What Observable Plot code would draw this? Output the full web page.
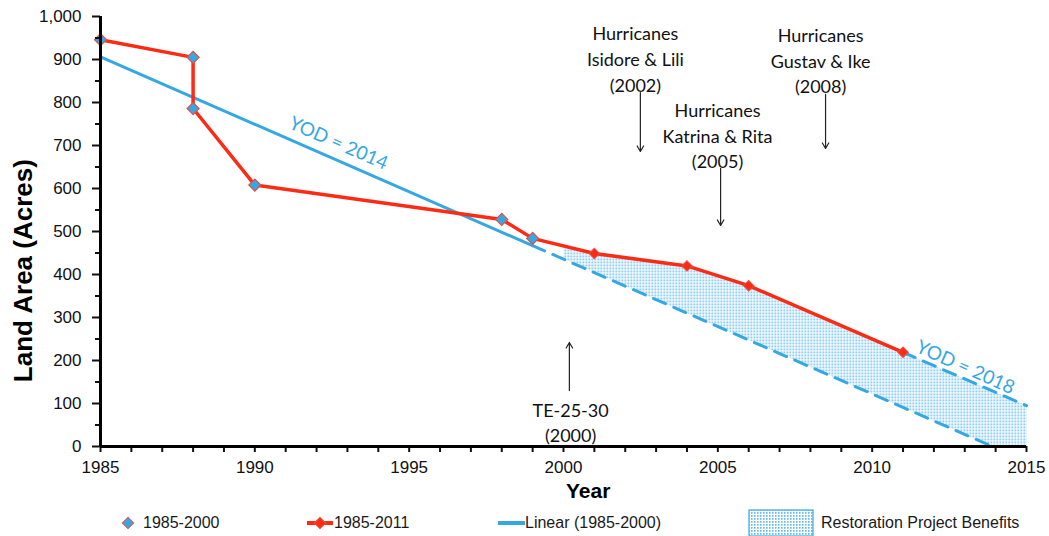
<!DOCTYPE html>
<html><head><meta charset="utf-8">
<script src="https://cdn.jsdelivr.net/npm/d3@7"></script>
<script src="https://cdn.jsdelivr.net/npm/@observablehq/plot@0.6"></script>
<style>
body{margin:0;background:#fff;}
#wrap{position:relative;width:1049px;height:536px;overflow:hidden;}
#legend{position:absolute;left:0;top:505px;width:1049px;height:31px;font-family:"Liberation Sans",Arial,sans-serif;font-size:16px;color:#1a1a1a;}
.li{position:absolute;top:0;height:36px;display:flex;align-items:center;white-space:nowrap;}
</style></head><body>
<div id="wrap"><div id="chart"></div><div id="legend"></div></div>
<script>
// ---- data ----
const earlyYears = [1985, 1988, 1988, 1990, 1998, 1999];
const earlyAcres = [946, 905, 786, 608, 528, 484];
const lateYears = [2001, 2004, 2006, 2011];
const lateAcres = [449, 420, 374, 219];
const trendYears = [1985, 1999];
const trendAcres = [906, 467];
const trendExtYears = [1999, 2013.9];
const trendExtAcres = [467, 0];
const projYears = [2011, 2015];
const projAcres = [219, 95];
const benefitYears = [2000, 2001, 2004, 2006, 2011, 2015, 2015, 2013.9, 2000];
const benefitAcres = [466, 449, 420, 374, 219, 95, 0, 0, 436];
const xTicks = d3.range(1985, 2016, 1);
const yMajor = d3.range(0, 1001, 100);
const yMinor = d3.range(50, 1000, 100);
const notes = [
  {text: "Hurricanes\nIsidore & Lili\n(2002)", x: 2002.33, y: 904},
  {text: "Hurricanes\nKatrina & Rita\n(2005)", x: 2004.99, y: 725},
  {text: "Hurricanes\nGustav & Ike\n(2008)", x: 2008.33, y: 900},
  {text: "TE-25-30\n(2000)", x: 2000.23, y: 59}
];
const arrows = [
  {x1: 2002.49, y1: 823, x2: 2002.49, y2: 686},
  {x1: 2005.09, y1: 647, x2: 2005.09, y2: 514},
  {x1: 2008.49, y1: 819, x2: 2008.49, y2: 693},
  {x1: 2000.19, y1: 130, x2: 2000.19, y2: 242}
];
const yodLabels = [
  {text: "YOD = 2014", x: 1992.71, y: 705, rotate: 23.6},
  {text: "YOD = 2018", x: 2013.02, y: 184, rotate: 24}
];

const RED = "#ff2a14";
const BLUE = "#35a8e4";
const early = earlyYears.map((x, i) => ({x, y: earlyAcres[i]}));
const late = lateYears.map((x, i) => ({x, y: lateAcres[i]}));
const all = early.concat(late);
const trend = trendYears.map((x, i) => ({x, y: trendAcres[i]}));
const trendExt = trendExtYears.map((x, i) => ({x, y: trendExtAcres[i]}));
const proj = projYears.map((x, i) => ({x, y: projAcres[i]}));
const benefit = benefitYears.map((x, i) => ({x, y: benefitAcres[i]}));

const plot = Plot.plot({
  width: 1049,
  height: 505,
  marginLeft: 100,
  marginRight: 23,
  marginTop: 16,
  marginBottom: 59,
  style: {fontFamily: "'Liberation Sans', Arial, sans-serif", fontSize: "17px", background: "white", color: "#111", overflow: "visible"},
  x: {domain: [1985, 2015], label: null},
  y: {domain: [0, 1000], label: null},
  marks: [
    Plot.line(benefit, {x: "x", y: "y", fill: "url(#dots)", stroke: "none", curve: "linear"}),
    Plot.line(trend, {x: "x", y: "y", stroke: BLUE, strokeWidth: 3}),
    Plot.line(trendExt, {x: "x", y: "y", stroke: BLUE, strokeWidth: 3, strokeDasharray: "13,9"}),
    Plot.line(proj, {x: "x", y: "y", stroke: BLUE, strokeWidth: 3, strokeDasharray: "13,9"}),
    Plot.line(all, {x: "x", y: "y", stroke: RED, strokeWidth: 3.5}),
    Plot.dot(early, {x: "x", y: "y", symbol: "square", rotate: 45, r: 4.8, fill: BLUE, stroke: "#e0504a", strokeWidth: 1.2}),
    Plot.dot(late, {x: "x", y: "y", symbol: "square", rotate: 45, r: 4.2, fill: RED, stroke: "#e0504a", strokeWidth: 1}),
    Plot.axisX({ticks: xTicks, tickSize: 6, tickPadding: 8, tickFormat: d => d % 5 === 0 ? String(d) : "", strokeWidth: 2, label: null}),
    Plot.axisY({ticks: yMajor, tickSize: 8, tickPadding: 11, tickFormat: d3.format(","), strokeWidth: 2, label: null}),
    Plot.axisY({ticks: yMinor, tickSize: 5, tickFormat: () => "", strokeWidth: 2, label: null}),
    Plot.ruleY([0], {stroke: "#000", strokeWidth: 3}),
    Plot.ruleX([1985], {stroke: "#000", strokeWidth: 3}),
    Plot.arrow(arrows, {x1: "x1", y1: "y1", x2: "x2", y2: "y2", stroke: "#222", strokeWidth: 1.2, headLength: 8}),
    Plot.text(notes, {x: "x", y: "y", text: "text", fontFamily: "Lato, 'Open Sans', sans-serif", fontSize: 18, lineHeight: 1.42, fill: "#111"}),
    Plot.text(yodLabels, {x: "x", y: "y", text: "text", rotate: "rotate", fontFamily: "Lato, 'Open Sans', sans-serif", fontSize: 19, fill: BLUE}),
    Plot.text(["Land Area (Acres)"], {frameAnchor: "left", textAnchor: "middle", lineAnchor: "middle", y: [409], dx: -77, rotate: -90, fontSize: 26, fontWeight: "bold", fill: "#000"}),
    Plot.text(["Year"], {frameAnchor: "bottom", textAnchor: "middle", lineAnchor: "middle", x: [2000.8], dy: 45, fontSize: 21, fontWeight: "bold", fill: "#000"})
  ]
});

// pattern definition for the shaded benefits area
const ns = "http://www.w3.org/2000/svg";
function addPattern(svg, id) {
  const defs = document.createElementNS(ns, "defs");
  defs.innerHTML = `<pattern id="${id}" width="3" height="3" patternUnits="userSpaceOnUse">
    <rect x="0" y="0" width="1.6" height="1.8" fill="#4fb0ea" fill-opacity="0.85"></rect></pattern>`;
  svg.insertBefore(defs, svg.firstChild);
}
addPattern(plot, "dots");
document.getElementById("chart").appendChild(plot);

// legend
const legend = document.getElementById("legend");
const items = [
  {left: 120, svg: `<svg width="16" height="16"><rect x="4" y="4" width="8" height="8" transform="rotate(45 8 8)" fill="${BLUE}" stroke="#e0504a"/></svg>`, label: "1985-2000", gap: 7},
  {left: 306, svg: `<svg width="28" height="16"><line x1="1" y1="8" x2="27" y2="8" stroke="${RED}" stroke-width="4"/><rect x="10" y="4" width="8" height="8" transform="rotate(45 14 8)" fill="${RED}" stroke="#e0504a"/></svg>`, label: "1985-2011", gap: 0},
  {left: 497, svg: `<svg width="28" height="16"><line x1="1" y1="8" x2="28" y2="8" stroke="${BLUE}" stroke-width="4"/></svg>`, label: "Linear (1985-2000)", gap: 0},
  {left: 748, svg: `<svg width="66" height="28"><defs><pattern id="dots2" width="3" height="3" patternUnits="userSpaceOnUse"><rect width="1.6" height="1.8" fill="#4fb0ea" fill-opacity="0.85"/></pattern></defs><rect x="1" y="1" width="64" height="26" fill="url(#dots2)" stroke="${BLUE}" stroke-width="1.2"/></svg>`, label: "Restoration Project Benefits", gap: 7}
];
for (const it of items) {
  const d = document.createElement("div");
  d.className = "li";
  d.style.left = it.left + "px";
  d.innerHTML = it.svg + `<span style="margin-left:${it.gap}px">${it.label}</span>`;
  legend.appendChild(d);
}
</script></body></html>
